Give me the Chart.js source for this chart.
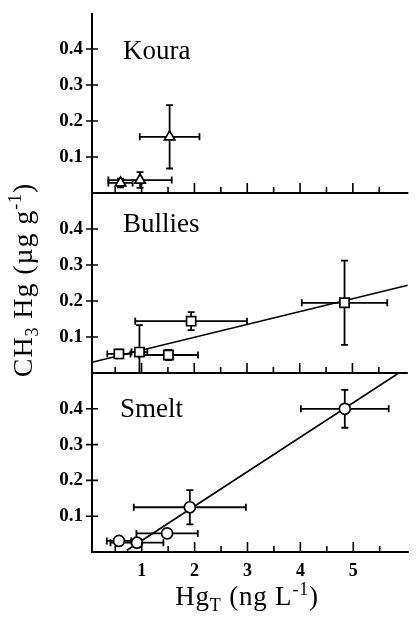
<!DOCTYPE html>
<html>
<head>
<meta charset="utf-8">
<script src="https://cdn.jsdelivr.net/npm/chart.js@4.4.1/dist/chart.umd.min.js"></script>
<style>
  html, body { margin: 0; padding: 0; background: #fff; }
  #wrap { position: relative; width: 416px; height: 627px; overflow: hidden; background: #fff; }
  #wrap canvas { position: absolute; left: 0; top: 0; }
</style>
</head>
<body>
<div id="wrap">
  <canvas id="koura" width="416" height="627"></canvas>
  <canvas id="bullies" width="416" height="627"></canvas>
  <canvas id="smelt" width="416" height="627"></canvas>
</div>
<script>
// Methylmercury in biota (µg/g) against total mercury in water (ng/L), mean ± SD

// Koura
const kouraHgT      = [0.60, 0.97, 1.53];
const kouraHgTErr   = [0.23, 0.60, 0.565];
const kouraMeHg     = [0.028, 0.036, 0.156];
const kouraMeHgErr  = [0.012, 0.022, 0.088];

// Bullies
const bulliesHgT     = [0.57, 0.96, 1.51, 1.94, 4.85];
const bulliesHgTErr  = [0.22, 0.15, 0.56, 1.06, 0.81];
const bulliesMeHg    = [0.053, 0.058, 0.050, 0.144, 0.195];
const bulliesMeHgErr = [0.012, 0.075, 0.014, 0.025, 0.117];
const bulliesFitX    = [0.06, 6.05];
const bulliesFitY    = [0.030, 0.244];

// Smelt
const smeltHgT     = [0.57, 0.91, 1.48, 1.91, 4.84];
const smeltHgTErr  = [0.23, 0.50, 0.58, 1.06, 0.83];
const smeltMeHg    = [0.031, 0.026, 0.052, 0.125, 0.400];
const smeltMeHgErr = [0.010, 0.010, 0.012, 0.048, 0.053];
const smeltFitX    = [0.72, 5.86];
const smeltFitY    = [0.005, 0.500];

// Axis ticks
const xTickValues = [1, 2, 3, 4, 5];
const xTickLabels = ['1', '2', '3', '4', '5'];
const yTickValues = [0.1, 0.2, 0.3, 0.4];
const yTickLabels = ['0.1', '0.2', '0.3', '0.4'];

const SERIF = '"Liberation Serif", "Times New Roman", Times, serif';
Chart.defaults.font.family = SERIF;
Chart.defaults.color = '#000';

const toPoints = (xs, ys) => xs.map((v, i) => ({ x: v, y: ys[i] }));

// Draws text made of normal / subscript / superscript runs, centred on (0,0) baseline
function drawRichText(ctx, runs, size, spacing) {
  const fontFor = r => (r.sub || r.sup ? Math.round(size * 0.66) : size) + 'px ' + SERIF;
  ctx.letterSpacing = spacing + 'px';
  let total = 0;
  runs.forEach(r => { ctx.font = fontFor(r); total += ctx.measureText(r.t).width; });
  let cx = -total / 2;
  ctx.textAlign = 'left';
  ctx.textBaseline = 'alphabetic';
  runs.forEach(r => {
    ctx.font = fontFor(r);
    const dy = r.sub ? size * 0.22 : (r.sup ? -size * 0.36 : 0);
    ctx.fillText(r.t, cx, dy);
    cx += ctx.measureText(r.t).width;
  });
  ctx.letterSpacing = '0px';
}

// Error bars, axes, tick marks and the panel name
const panelPlugin = {
  id: 'panel',
  beforeDatasetsDraw(chart) {
    const { ctx, chartArea: a, scales: { x, y } } = chart;
    ctx.save();
    ctx.beginPath();
    ctx.rect(a.left, a.top, a.right - a.left, a.bottom - a.top);
    ctx.clip();
    ctx.strokeStyle = '#000';
    ctx.lineWidth = 1.8;
    ctx.lineCap = 'butt';
    chart.data.datasets.forEach(ds => {
      if (!ds.errX) return;
      ds.data.forEach((p, i) => {
        const px = x.getPixelForValue(p.x);
        const py = y.getPixelForValue(p.y);
        const xl = x.getPixelForValue(p.x - ds.errX[i]);
        const xr = x.getPixelForValue(p.x + ds.errX[i]);
        const yt = y.getPixelForValue(p.y + ds.errY[i]);
        const yb = y.getPixelForValue(p.y - ds.errY[i]);
        const c = 3.5;
        ctx.beginPath();
        ctx.moveTo(xl, py); ctx.lineTo(xr, py);
        ctx.moveTo(xl, py - c); ctx.lineTo(xl, py + c);
        ctx.moveTo(xr, py - c); ctx.lineTo(xr, py + c);
        ctx.moveTo(px, yt); ctx.lineTo(px, yb);
        ctx.moveTo(px - c, yt); ctx.lineTo(px + c, yt);
        ctx.moveTo(px - c, yb); ctx.lineTo(px + c, yb);
        ctx.stroke();
      });
    });
    ctx.restore();
  },
  afterDraw(chart, args, opts) {
    const { ctx, chartArea: a, scales: { x, y } } = chart;
    ctx.save();
    ctx.strokeStyle = '#000';
    ctx.lineWidth = 2;
    // axis lines
    ctx.beginPath();
    ctx.moveTo(a.left, a.top); ctx.lineTo(a.left, a.bottom + 1);
    ctx.moveTo(a.left - 1, a.bottom); ctx.lineTo(a.right, a.bottom);
    ctx.stroke();
    // y ticks crossing the axis
    ctx.lineWidth = 1.6;
    ctx.beginPath();
    yTickValues.forEach(v => {
      const py = y.getPixelForValue(v);
      ctx.moveTo(a.left - 6, py); ctx.lineTo(a.left + 6, py);
    });
    // x ticks pointing into the panel, every half unit
    for (let k = 1; k * 0.5 < x.max - 0.2; k++) {
      const v = k * 0.5;
      const px = x.getPixelForValue(v);
      const len = k % 2 === 0 ? 10 : 6;
      ctx.moveTo(px, a.bottom); ctx.lineTo(px, a.bottom - len);
    }
    ctx.stroke();
    // panel name
    ctx.fillStyle = '#000';
    ctx.font = '27px ' + SERIF;
    ctx.textAlign = 'left';
    ctx.textBaseline = 'alphabetic';
    ctx.fillText(opts.name, opts.nameX, a.top + opts.nameDy);
    // axis titles on the lowest panel
    if (opts.titles) {
      ctx.save();
      ctx.translate(247, 605);
      drawRichText(ctx, [{ t: 'Hg' }, { t: 'T', sub: true }, { t: ' (ng L' }, { t: '-1', sup: true }, { t: ')' }], 27, 0.8);
      ctx.restore();
      ctx.save();
      ctx.translate(31.5, 280);
      ctx.rotate(-Math.PI / 2);
      drawRichText(ctx, [{ t: 'CH' }, { t: '3', sub: true }, { t: ' Hg (µg g' }, { t: '-1', sup: true }, { t: ')' }], 28, 0.9);
      ctx.restore();
    }
    ctx.restore();
  }
};

function makePanel(id, cfg) {
  const datasets = [{
    data: toPoints(cfg.xs, cfg.ys),
    errX: cfg.ex,
    errY: cfg.ey,
    pointStyle: cfg.marker,
    pointRadius: cfg.radius,
    pointBackgroundColor: '#fff',
    pointBorderColor: '#000',
    pointBorderWidth: 1.7,
    showLine: false
  }];
  if (cfg.fitX) {
    datasets.push({
      data: toPoints(cfg.fitX, cfg.fitY),
      showLine: true,
      borderColor: '#000',
      borderWidth: 1.6,
      pointRadius: 0,
      fill: false
    });
  }
  return new Chart(document.getElementById(id), {
    type: 'scatter',
    data: { datasets },
    options: {
      responsive: false,
      devicePixelRatio: 1,
      animation: false,
      events: [],
      layout: { padding: { top: cfg.top, bottom: cfg.bottom, left: 0, right: 0 } },
      scales: {
        x: {
          type: 'linear',
          min: 0.06,
          max: 6.05,
          display: cfg.showX,
          position: 'bottom',
          afterBuildTicks: s => { s.ticks = xTickValues.map(v => ({ value: v })); },
          ticks: {
            callback: (v, i) => xTickLabels[i],
            font: { size: 18, weight: 'bold', family: SERIF },
            color: '#000',
            padding: 9,
            maxRotation: 0,
            autoSkip: false
          },
          grid: { display: false, drawTicks: false },
          border: { display: false },
          afterFit: s => {
            s.height = cfg.showX ? 75 : 0;
            s.paddingLeft = 0; s.paddingRight = 0; s.paddingTop = 0; s.paddingBottom = 0;
          }
        },
        y: {
          type: 'linear',
          min: 0,
          max: 0.5,
          position: 'left',
          afterBuildTicks: s => { s.ticks = yTickValues.map(v => ({ value: v })); },
          ticks: {
            callback: (v, i) => yTickLabels[i],
            font: { size: 19, weight: 'bold', family: SERIF },
            color: '#000',
            padding: 9,
            autoSkip: false
          },
          grid: { display: false, drawTicks: false },
          border: { display: false },
          afterFit: s => {
            s.width = 92;
            s.paddingLeft = 0; s.paddingRight = 0; s.paddingTop = 0; s.paddingBottom = 0;
          }
        }
      },
      plugins: {
        legend: { display: false },
        tooltip: { enabled: false },
        panel: { name: cfg.name, nameX: cfg.nameX, nameDy: cfg.nameDy, titles: !!cfg.titles }
      }
    },
    plugins: [panelPlugin]
  });
}

makePanel('koura', {
  name: 'Koura', nameX: 123, nameDy: 46,
  xs: kouraHgT, ys: kouraMeHg, ex: kouraHgTErr, ey: kouraMeHgErr,
  marker: 'triangle', radius: 6,
  top: 13, bottom: 627 - 193, showX: false
});

makePanel('bullies', {
  name: 'Bullies', nameX: 123, nameDy: 39,
  xs: bulliesHgT, ys: bulliesMeHg, ex: bulliesHgTErr, ey: bulliesMeHgErr,
  marker: 'rect', radius: 6.5,
  fitX: bulliesFitX, fitY: bulliesFitY,
  top: 193, bottom: 627 - 373, showX: false
});

makePanel('smelt', {
  name: 'Smelt', nameX: 120, nameDy: 44,
  xs: smeltHgT, ys: smeltMeHg, ex: smeltHgTErr, ey: smeltMeHgErr,
  marker: 'circle', radius: 5.5,
  fitX: smeltFitX, fitY: smeltFitY,
  top: 373, bottom: 0, showX: true, titles: true
});
</script>
</body>
</html>
